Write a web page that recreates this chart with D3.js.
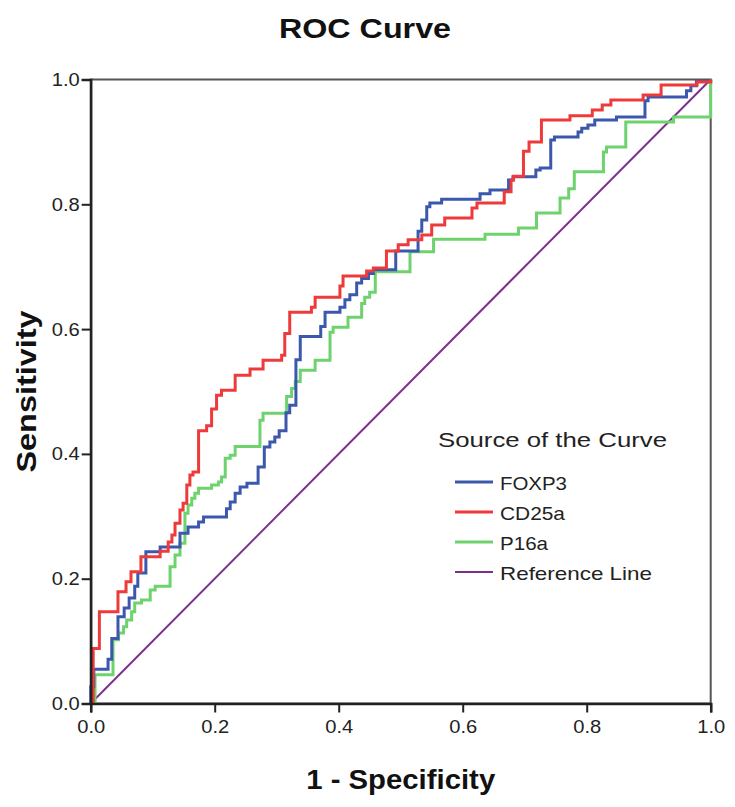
<!DOCTYPE html>
<html lang="en">
<head>
<meta charset="UTF-8">
<title>ROC Curve</title>
<script src="https://d3js.org/d3.v7.min.js"></script>
<style>
  body { margin: 0; background: #fff; font-family: Arial, "Liberation Sans", sans-serif; }
</style>
</head>
<body>
<svg id="chart" width="735" height="807"></svg>
<script>
// ROC points (1 - specificity, sensitivity)
const foxp3Fpr = [0, 0, 0.005, 0.028, 0.034, 0.044, 0.054, 0.062, 0.071, 0.076, 0.089, 0.112, 0.144, 0.157, 0.174, 0.182,
  0.219, 0.225, 0.233, 0.241, 0.252, 0.270, 0.280, 0.289, 0.297, 0.304, 0.315, 0.321, 0.331, 0.338, 0.371, 0.378,
  0.402, 0.410, 0.418, 0.429, 0.437, 0.448, 0.456, 0.492, 0.528, 0.534, 0.542, 0.547, 0.566, 0.628, 0.644, 0.674,
  0.681, 0.718, 0.725, 0.742, 0.748, 0.786, 0.792, 0.802, 0.813, 0.848, 0.894, 0.899, 0.961, 0.968, 0.977, 1];
const foxp3Tpr = [0, 0.027, 0.055, 0.071, 0.104, 0.139, 0.153, 0.169, 0.188, 0.209, 0.243, 0.251, 0.273, 0.283, 0.291, 0.299,
  0.312, 0.323, 0.337, 0.347, 0.353, 0.379, 0.411, 0.419, 0.427, 0.437, 0.466, 0.478, 0.551, 0.588, 0.604, 0.627,
  0.635, 0.647, 0.655, 0.674, 0.681, 0.689, 0.695, 0.725, 0.757, 0.775, 0.796, 0.802, 0.808, 0.817, 0.823, 0.839,
  0.844, 0.855, 0.858, 0.903, 0.908, 0.916, 0.922, 0.927, 0.935, 0.940, 0.966, 0.972, 0.982, 0.990, 0.997, 1];

const cd25aFpr = [0, 0.004, 0.014, 0.044, 0.057, 0.065, 0.081, 0.112, 0.125, 0.131, 0.136, 0.144, 0.149, 0.155, 0.160, 0.165,
  0.174, 0.187, 0.195, 0.203, 0.211, 0.233, 0.257, 0.278, 0.308, 0.313, 0.321, 0.356, 0.362, 0.402, 0.407, 0.445,
  0.456, 0.477, 0.496, 0.512, 0.534, 0.550, 0.571, 0.615, 0.623, 0.667, 0.678, 0.682, 0.698, 0.707, 0.727, 0.773,
  0.809, 0.825, 0.839, 0.891, 0.920, 0.978, 1];
const cd25aTpr = [0, 0.088, 0.147, 0.179, 0.195, 0.211, 0.235, 0.244, 0.259, 0.270, 0.289, 0.310, 0.321, 0.350, 0.366, 0.371,
  0.437, 0.445, 0.472, 0.494, 0.502, 0.526, 0.536, 0.550, 0.558, 0.593, 0.627, 0.635, 0.651, 0.669, 0.685, 0.693,
  0.698, 0.725, 0.735, 0.743, 0.751, 0.767, 0.778, 0.794, 0.802, 0.820, 0.839, 0.845, 0.885, 0.900, 0.935, 0.942,
  0.951, 0.959, 0.967, 0.975, 0.991, 0.996, 1];

const p16aFpr = [0, 0.007, 0.036, 0.045, 0.053, 0.058, 0.066, 0.071, 0.082, 0.096, 0.104, 0.128, 0.136, 0.144, 0.152, 0.157,
  0.163, 0.168, 0.174, 0.195, 0.206, 0.211, 0.217, 0.225, 0.233, 0.273, 0.278, 0.316, 0.324, 0.330, 0.338, 0.362,
  0.386, 0.391, 0.415, 0.437, 0.442, 0.450, 0.459, 0.515, 0.553, 0.636, 0.690, 0.719, 0.757, 0.771, 0.780, 0.827,
  0.832, 0.863, 0.940, 1];
const p16aTpr = [0, 0.046, 0.102, 0.113, 0.123, 0.134, 0.147, 0.161, 0.166, 0.182, 0.188, 0.219, 0.238, 0.257, 0.305, 0.318,
  0.329, 0.337, 0.345, 0.350, 0.355, 0.363, 0.393, 0.398, 0.412, 0.454, 0.465, 0.492, 0.505, 0.516, 0.534, 0.550,
  0.595, 0.603, 0.619, 0.641, 0.651, 0.659, 0.692, 0.724, 0.744, 0.752, 0.762, 0.786, 0.810, 0.825, 0.852, 0.884,
  0.892, 0.932, 0.940, 1];

const refFpr = [0, 1];
const refTpr = [0, 1];

const seriesNames = ["FOXP3", "CD25a", "P16a", "Reference Line"];
const seriesColors = ["#3c58ad", "#ee3a3a", "#6ed36e", "#7e2f8e"];
const axisTicks = [0, 0.2, 0.4, 0.6, 0.8, 1.0];

const svg = d3.select("#chart");
const margin = { left: 90.7, top: 79.5, right: 24.3, bottom: 103.5 };
const width = 735 - margin.left - margin.right;
const height = 807 - margin.top - margin.bottom;

const x = d3.scaleLinear().domain([0, 1]).range([margin.left, margin.left + width]);
const y = d3.scaleLinear().domain([0, 1]).range([margin.top + height, margin.top]);

svg.append("rect").attr("width", 735).attr("height", 807).attr("fill", "#fff");

// frame
svg.append("rect")
  .attr("x", x(0)).attr("y", y(1))
  .attr("width", width).attr("height", height)
  .attr("fill", "none").attr("stroke", "#555").attr("stroke-width", 2);

const series = [
  { fpr: foxp3Fpr, tpr: foxp3Tpr },
  { fpr: cd25aFpr, tpr: cd25aTpr },
  { fpr: p16aFpr, tpr: p16aTpr },
  { fpr: refFpr, tpr: refTpr }
].map((s, i) => ({ name: seriesNames[i], color: seriesColors[i], pts: s.fpr.map((f, j) => [f, s.tpr[j]]) }));

const stepLine = d3.line().x(d => x(d[0])).y(d => y(d[1])).curve(d3.curveStepAfter);
const straight = d3.line().x(d => x(d[0])).y(d => y(d[1]));

// reference line drawn first, curves on top
svg.append("path")
  .datum(series[3].pts)
  .attr("d", straight)
  .attr("fill", "none").attr("stroke", series[3].color).attr("stroke-width", 2);

svg.append("g")
  .selectAll("path")
  .data([series[2], series[0], series[1]])
  .join("path")
  .attr("d", d => stepLine(d.pts))
  .attr("fill", "none")
  .attr("stroke", d => d.color)
  .attr("stroke-width", 3)
  .attr("stroke-linejoin", "miter");

// axes
const xAxis = svg.append("g")
  .attr("transform", `translate(0,${y(0)})`)
  .call(d3.axisBottom(x).tickValues(axisTicks).tickFormat(d3.format(".1f")).tickSize(9).tickPadding(7));
const yAxis = svg.append("g")
  .attr("transform", `translate(${x(0)},0)`)
  .call(d3.axisLeft(y).tickValues(axisTicks).tickFormat(d3.format(".1f")).tickSize(9).tickPadding(2));

[xAxis, yAxis].forEach(g => {
  g.select(".domain").attr("stroke", "#222").attr("stroke-width", 2.5);
  g.selectAll(".tick line").attr("stroke", "#222").attr("stroke-width", 2);
  g.selectAll(".tick text")
    .attr("font-family", "Arial, 'Liberation Sans', sans-serif")
    .attr("font-size", 19).attr("fill", "#222")
    .attr("textLength", 28).attr("lengthAdjust", "spacingAndGlyphs");
});

// titles
svg.append("text")
  .attr("x", 365).attr("y", 38)
  .attr("text-anchor", "middle")
  .attr("font-size", 27).attr("font-weight", "bold").attr("fill", "#111")
  .attr("textLength", 172).attr("lengthAdjust", "spacingAndGlyphs")
  .text("ROC Curve");

svg.append("text")
  .attr("x", x(0.5)).attr("y", 789)
  .attr("text-anchor", "middle")
  .attr("font-size", 28).attr("font-weight", "bold").attr("fill", "#111")
  .attr("textLength", 189).attr("lengthAdjust", "spacingAndGlyphs")
  .text("1 - Specificity");

svg.append("text")
  .attr("transform", `translate(36,${y(0.5)}) rotate(-90)`)
  .attr("text-anchor", "middle")
  .attr("font-size", 28).attr("font-weight", "bold").attr("fill", "#111")
  .attr("textLength", 162).attr("lengthAdjust", "spacingAndGlyphs")
  .text("Sensitivity");

// legend
const legendWidths = [67, 65, 48, 152];
const legend = svg.append("g").attr("transform", "translate(438,447)");
legend.append("text")
  .attr("x", 0).attr("y", 0)
  .attr("font-size", 21).attr("fill", "#222")
  .attr("textLength", 229).attr("lengthAdjust", "spacingAndGlyphs")
  .text("Source of the Curve");

const item = legend.selectAll("g.item")
  .data(series)
  .join("g")
  .attr("class", "item")
  .attr("transform", (d, i) => `translate(0,${35 + i * 30})`);

item.append("line")
  .attr("x1", 17).attr("x2", 55)
  .attr("stroke", d => d.color)
  .attr("stroke-width", (d, i) => i === 3 ? 2 : 3);

item.append("text")
  .attr("x", 62).attr("y", 8)
  .attr("font-size", 19).attr("fill", "#222")
  .attr("textLength", (d, i) => legendWidths[i]).attr("lengthAdjust", "spacingAndGlyphs")
  .text(d => d.name);
</script>
</body>
</html>
